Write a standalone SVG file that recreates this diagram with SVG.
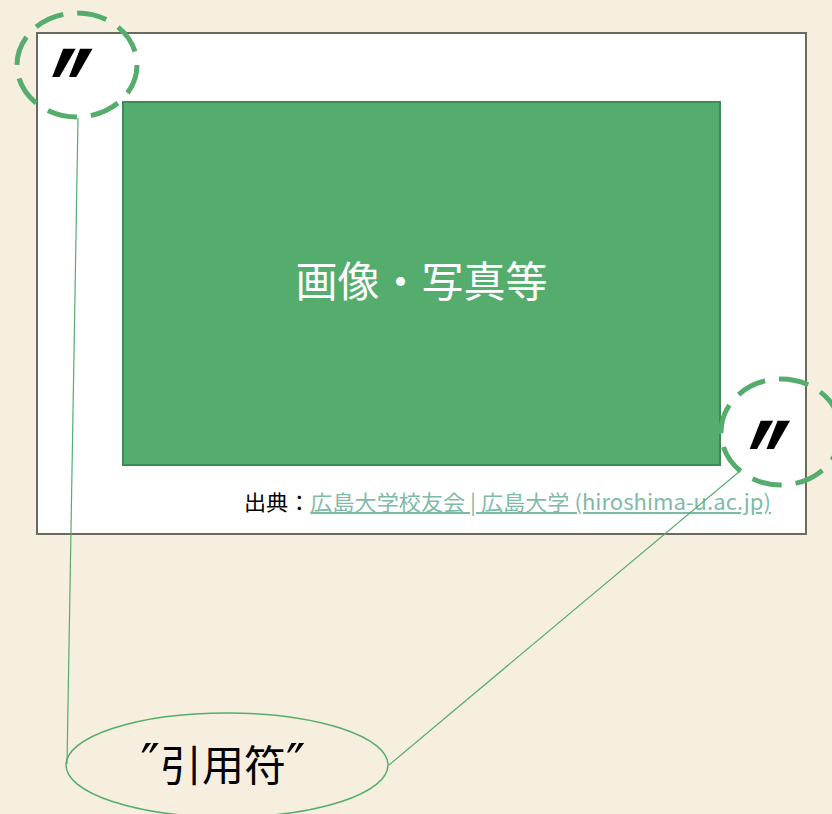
<svg xmlns="http://www.w3.org/2000/svg" width="832" height="814" viewBox="0 0 832 814">
<style>
.ring{fill:none;stroke:#55AD6D;stroke-width:5;stroke-dasharray:30 14}
.q{font-family:"DejaVu Sans","Liberation Sans",sans-serif;font-weight:bold;font-style:italic;font-size:118px;fill:#000}
.conn{stroke:#55AD6D;stroke-width:1.2;fill:none}
.jp{font-family:"Noto Sans CJK JP","Noto Sans",sans-serif}
.dq{font-family:"DejaVu Sans",sans-serif;font-size:52px}
</style>
<rect width="832" height="814" fill="#F6EEDF"/>
<g id="frame">
<rect x="37" y="33" width="769" height="501" fill="#FFFFFF" stroke="#6B6B5D" stroke-width="2"/>
</g>
<g id="image">
<rect x="123" y="102" width="597" height="363" fill="#55AD6D" stroke="#3E8A52" stroke-width="2"/>
<text x="421.5" y="297" text-anchor="middle" class="jp" font-size="42" fill="#FFFFFF">画像・写真等</text>
</g>
<g id="citation">
<text x="244" y="510" class="jp" font-size="21" fill="#000" textLength="527" lengthAdjust="spacingAndGlyphs">出典：<tspan fill="#7FBAA6" text-decoration="underline">広島大学校友会 | 広島大学 (hiroshima-u.ac.jp)</tspan></text>
</g>
<g id="quote-top">
<ellipse class="ring" cx="77" cy="65" rx="60" ry="52"/>
<text class="q" transform="translate(72.5,48) scale(0.78,1.32)" x="0" y="86" text-anchor="middle">″</text>
</g>
<g id="quote-bottom">
<ellipse class="ring" cx="781" cy="432" rx="60" ry="53"/>
<text class="q" transform="translate(770,420) scale(0.78,1.32)" x="0" y="86" text-anchor="middle">″</text>
</g>
<g id="connectors">
<line class="conn" x1="78" y1="118" x2="67" y2="764"/>
<line class="conn" x1="740" y1="471" x2="389" y2="765"/>
</g>
<g id="label">
<ellipse cx="227" cy="765" rx="161" ry="52" fill="none" stroke="#55AD6D" stroke-width="1.5"/>
<text x="223" y="781" text-anchor="middle" class="jp" font-size="42" fill="#000"><tspan class="dq">″</tspan>引用符<tspan class="dq">″</tspan></text>
</g>
</svg>
